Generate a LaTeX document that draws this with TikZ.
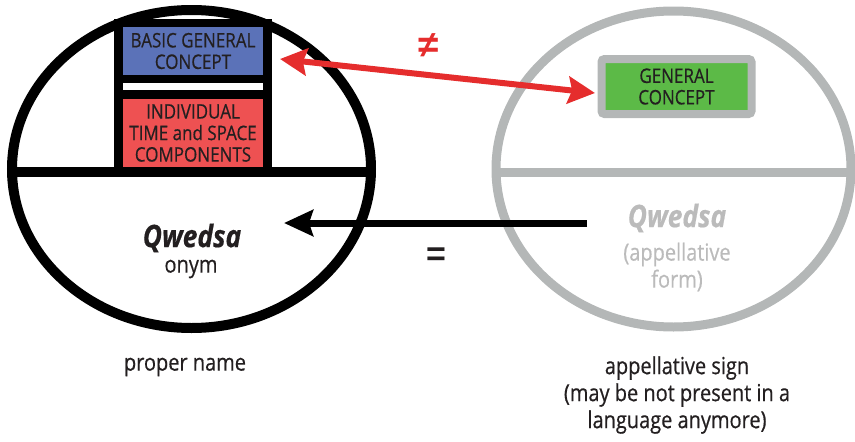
\documentclass[tikz,border=0pt]{standalone}
\usepackage{fontspec}
\setmainfont{Open Sans}[FakeStretch=0.85, FakeBold=0.5]
\newfontfamily\symbfont{Liberation Sans}
\usetikzlibrary{arrows.meta}
\definecolor{basicblue}{HTML}{5B72B8}
\definecolor{individred}{HTML}{EE5152}
\definecolor{conceptgreen}{HTML}{5CBA47}
\definecolor{neqred}{HTML}{E52D2D}
\definecolor{signgray}{HTML}{B4B7B7}
\definecolor{formgray}{HTML}{BBBBBB}
\definecolor{inktext}{HTML}{231F20}
\begin{document}
\begin{tikzpicture}[x = 1pt, y = -1pt,
		onym/.style = {line width = 10pt},
		appel/.style = {line width = 9pt, draw = signgray},
		box/.style = {inner sep = 0pt, outer sep = 0pt, align = center, text = inktext,
			font = \fontsize{20}{21.5}\selectfont},
		label/.style = {align = center, text = inktext, font = \fontsize{23.5}{27}\selectfont}]
		\useasboundingbox (0, 0) rectangle (855, 442);
		% ellipses
		\draw[onym] (191.5, 169) ellipse [x radius = 179.5, y radius = 159];
		\draw[onym] (12, 172) -- (371, 172);
		\draw[appel] (673.5, 169) ellipse [x radius = 177.5, y radius = 158];
		\draw[appel] (496, 172) -- (851, 172);
		% boxes
		\node[fill = black, minimum width = 158pt, minimum height = 153pt, inner sep = 0pt] (frame) at (193, 95.5) {};
		\node[box, fill = basicblue, minimum width = 140pt, minimum height = 48pt] (basic) at (193, 51) {BASIC GENERAL\\CONCEPT};
		\node[fill = white, minimum width = 140pt, minimum height = 7pt, inner sep = 0pt] (gap) at (193, 86.5) {};
		\node[box, fill = individred, minimum width = 140pt, minimum height = 68pt] (individ) at (193, 133) {INDIVIDUAL\\TIME and SPACE\\COMPONENTS};
		\node[box, draw = signgray, line width = 8pt, rounded corners = 3pt, fill = conceptgreen,
			minimum width = 150pt, minimum height = 55pt] (general) at (676.5, 86.5) {GENERAL\\CONCEPT};
		% words
		\node[text = inktext, font = \fontsize{31}{32}\selectfont\bfseries\itshape] (name) at (192, 238) {Qwedsa};
		\node[label] (onymtext) at (191, 269) {onym};
		\node[text = formgray, font = \fontsize{31}{32}\selectfont\bfseries\itshape] (form) at (677, 218) {Qwedsa};
		\node[label, text = formgray] (formtext) at (677, 267) {(appellative\\form)};
		% arrows
		\coordinate (neqL) at (280, 59);
		\coordinate (neqR) at (595, 93);
		\draw[neqred, line width = 6pt, {Stealth[length = 27pt, width = 27pt, inset = 4pt]}-{Stealth[length = 27pt, width = 27pt, inset = 4pt]}] (neqL) -- (neqR);
		\node[text = neqred, font = \symbfont\bfseries\fontsize{37}{37}\selectfont] (neq) at (429, 46) {≠};
		\coordinate (eqR) at (587, 223);
		\coordinate (eqL) at (284, 223);
		\draw[line width = 7pt, -{Stealth[length = 29pt, width = 26pt, inset = 4pt]}] (eqR) -- (eqL);
		\node[text = inktext, font = \symbfont\bfseries\fontsize{34}{34}\selectfont] (eq) at (436, 257) {=};
		% captions
		\node[label] (proper) at (185, 367) {proper name};
		\node[label] (appellative) at (677, 395) {appellative sign\\(may be not present in a\\language anymore)};
\end{tikzpicture}
\end{document}
